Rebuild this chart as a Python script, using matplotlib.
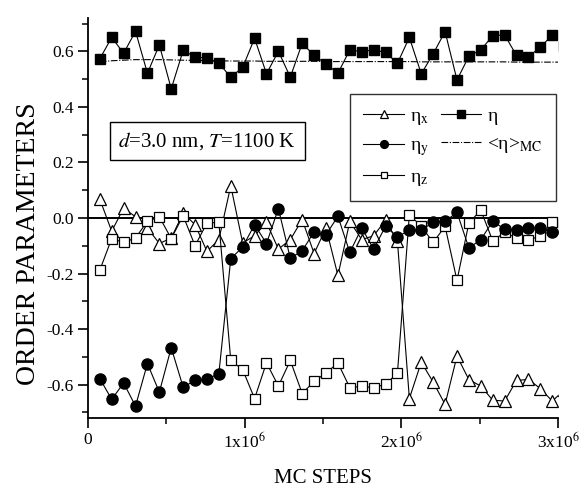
import numpy as np
import matplotlib.pyplot as plt
from matplotlib.ticker import FixedLocator, MultipleLocator

plt.rcParams['font.family'] = ['Liberation Serif', 'DejaVu Serif']
plt.rcParams['mathtext.fontset'] = 'stix'
plt.rcParams['axes.unicode_minus'] = False

# MC steps (x 1000) of the samples
steps_k = [76, 152, 228, 304, 380, 456, 532, 608, 684, 760,
           836, 912, 988, 1064, 1140, 1216, 1292, 1368, 1444, 1520,
           1596, 1672, 1748, 1824, 1900, 1976, 2052, 2128, 2204, 2280,
           2356, 2432, 2508, 2584, 2660, 2736, 2812, 2888, 2964, 3040]

eta = [0.573, 0.650, 0.593, 0.672, 0.521, 0.623, 0.465, 0.603, 0.580, 0.575,
       0.557, 0.507, 0.542, 0.647, 0.519, 0.600, 0.507, 0.629, 0.585, 0.555,
       0.521, 0.605, 0.599, 0.605, 0.596, 0.557, 0.650, 0.519, 0.591, 0.671,
       0.497, 0.582, 0.605, 0.656, 0.659, 0.585, 0.581, 0.614, 0.659, 0.620]

eta_x = [0.068, -0.048, 0.036, 0.004, -0.036, -0.092, -0.072, 0.018, -0.024, -0.120,
         -0.078, 0.116, -0.090, -0.064, -0.016, -0.112, -0.078, -0.006, -0.128, -0.036,
         -0.207, -0.012, -0.078, -0.064, -0.008, -0.084, -0.650, -0.519, -0.591, -0.671,
         -0.497, -0.582, -0.605, -0.656, -0.659, -0.585, -0.581, -0.614, -0.659, -0.620]

eta_y = [-0.578, -0.653, -0.594, -0.677, -0.524, -0.627, -0.467, -0.609, -0.585, -0.581,
         -0.560, -0.147, -0.104, -0.024, -0.092, 0.034, -0.145, -0.118, -0.050, -0.060,
         0.006, -0.124, -0.036, -0.112, -0.030, -0.068, -0.044, -0.045, -0.014, -0.012,
         0.020, -0.108, -0.078, -0.012, -0.040, -0.044, -0.036, -0.036, -0.052, -0.050]

eta_z = [-0.188, -0.074, -0.088, -0.072, -0.012, 0.004, -0.074, 0.008, -0.100, -0.018,
         -0.016, -0.513, -0.546, -0.650, -0.521, -0.605, -0.513, -0.632, -0.588, -0.558,
         -0.522, -0.611, -0.606, -0.611, -0.599, -0.558, 0.012, -0.030, -0.088, -0.030,
         -0.225, -0.018, 0.028, -0.082, -0.052, -0.072, -0.078, -0.066, -0.016, -0.020]

eta_mc = [0.562, 0.566, 0.568, 0.570, 0.570, 0.570, 0.569, 0.568, 0.567, 0.567,
          0.566, 0.565, 0.565, 0.565, 0.564, 0.564, 0.564, 0.564, 0.564, 0.563,
          0.563, 0.563, 0.563, 0.563, 0.563, 0.563, 0.563, 0.562, 0.562, 0.562,
          0.562, 0.562, 0.562, 0.562, 0.562, 0.561, 0.561, 0.561, 0.561, 0.561]

x = np.array(steps_k) * 1000.0

fig = plt.figure(figsize=(5.86, 4.87), dpi=100)
ax = fig.add_axes([0.150, 0.1417, 0.802, 0.8214])

ax.axhline(0.0, color='black', lw=1.4, zorder=1)

lx, = ax.plot(x, eta_x, '-^', color='black', lw=0.8, ms=8, mfc='white', mec='black', mew=0.9,
              label='η$_{\\rm x}$', zorder=3)
lz, = ax.plot(x, eta_z, '-s', color='black', lw=0.8, ms=7, mfc='white', mec='black', mew=0.9,
              label='η$_{\\rm z}$', zorder=4)
ly, = ax.plot(x, eta_y, '-o', color='black', lw=0.8, ms=8, mfc='black', mec='black',
              label='η$_{\\rm y}$', zorder=5)
lm, = ax.plot(x, eta_mc, color='black', lw=0.8, ls=(0, (6, 1.5, 1, 1.5)),
              label='<η>$_{\\rm MC}$', zorder=2)
le, = ax.plot(x, eta, '-s', color='black', lw=0.8, ms=7.5, mfc='black', mec='black',
              label='η', zorder=6)

ax.set_xlim(0, 3e6)
ax.set_ylim(-0.72, 0.72)

ax.spines['top'].set_visible(False)
ax.spines['right'].set_visible(False)
ax.spines['left'].set_linewidth(1.3)
ax.spines['bottom'].set_linewidth(1.3)

ax.xaxis.set_major_locator(FixedLocator([0, 1e6, 2e6, 3e6]))
ax.xaxis.set_minor_locator(MultipleLocator(0.5e6))
ax.set_xticklabels(['0', r'1x10$^6$', r'2x10$^6$', r'3x10$^6$'])
ax.yaxis.set_minor_locator(MultipleLocator(0.1))
ax.set_yticks([-0.6, -0.4, -0.2, 0.0, 0.2, 0.4, 0.6])
ax.set_yticklabels(['-0.6', '-0.4', '-0.2', '0.0', '0.2', '0.4', '0.6'])

ax.tick_params(which='major', direction='out', length=7, width=1.2, labelsize=12.5, pad=3)
ax.tick_params(which='minor', direction='out', length=4, width=1.1)

ax.set_xlabel('MC STEPS', fontsize=15, labelpad=12)
ax.set_ylabel('ORDER PARAMETERS', fontsize=20)
ax.yaxis.set_label_coords(-0.10, 0.435)

ax.text(0.065, 0.6925, r'$d$=3.0 nm, $T$=1100 K', transform=ax.transAxes, fontsize=15,
        ha='left', va='center',
        bbox=dict(boxstyle='square,pad=0.4', fc='white', ec='black', lw=1.0))

leg = ax.legend(handles=[lx, ly, lz, le, lm], ncol=2, loc='upper left',
                bbox_to_anchor=(0.557, 0.81), borderaxespad=0, fontsize=14,
                frameon=True, fancybox=False, shadow=False, markerscale=0.7,
                handlelength=2.1, handletextpad=0.3, columnspacing=0.6,
                labelspacing=0.5, borderpad=0.7)
leg.get_frame().set_edgecolor('black')
leg.get_frame().set_linewidth(1.0)

fig.savefig('out.png', dpi=100)
